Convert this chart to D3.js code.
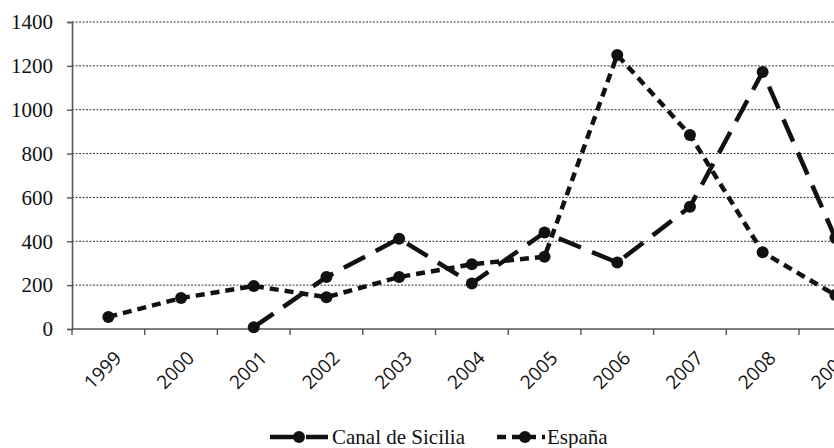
<!DOCTYPE html>
<html>
<head>
<meta charset="utf-8">
<script src="https://cdn.jsdelivr.net/npm/d3@7"></script>
<style>
  body { margin: 0; background: #fff; }
  svg { display: block; }
</style>
</head>
<body>
<script>
(function() {

    var years = ["1999", "2000", "2001", "2002", "2003", "2004", "2005", "2006", "2007", "2008", "2009"];
    var canal = [null, null, 8, 237, 412, 208, 440, 303, 557, 1172, 415];
    var espana = [55, 141, 196, 145, 237, 295, 330, 1250, 885, 350, 155];
    var yTicks = [0, 200, 400, 600, 800, 1000, 1200, 1400];
    var seriesNames = ["Canal de Sicilia", "España"];

    var width = 834,
        height = 448;

    var svg = d3.select("body")
        .append("svg")
        .attr("width", width)
        .attr("height", height);

    // band of 72.7px, last category runs past the right edge like the original
    var x = d3.scaleBand()
        .domain(years)
        .range([72, 72 + 11 * 72.7]);

    var y = d3.scaleLinear()
        .domain([0, 1400])
        .range([329, 22]);

    // dotted gridlines
    svg.selectAll(".grid")
        .data(yTicks.filter(function(d){ return d > 0; }))
        .enter()
        .append("line")
        .attr("class", "grid")
        .attr("x1", 72)
        .attr("x2", width)
        .attr("y1", function(d){ return y(d); })
        .attr("y2", function(d){ return y(d); })
        .attr("stroke", "#333")
        .attr("stroke-width", 1)
        .attr("stroke-dasharray", "2,1.5");

    // y axis
    var yAxis = svg.append("g")
        .attr("transform", "translate(72,0)")
        .call(d3.axisLeft(y).tickValues(yTicks).tickFormat(d3.format("d")).tickSize(5).tickPadding(14));
    yAxis.select(".domain").attr("stroke", "#555").attr("stroke-width", 1.6);
    yAxis.selectAll(".tick line").attr("stroke", "#555").attr("stroke-width", 1.4);
    yAxis.selectAll("text")
        .attr("fill", "#111")
        .style("font-family", "'Liberation Serif', serif")
        .style("font-size", "21px");

    // x axis, ticks at band edges
    var xEdges = years.map(function(d){ return x(d); });
    svg.append("line")
        .attr("x1", 72).attr("x2", width)
        .attr("y1", y(0)).attr("y2", y(0))
        .attr("stroke", "#555").attr("stroke-width", 1.6);
    svg.selectAll(".xtick")
        .data(xEdges)
        .enter()
        .append("line")
        .attr("class", "xtick")
        .attr("x1", function(d){ return d; })
        .attr("x2", function(d){ return d; })
        .attr("y1", y(0))
        .attr("y2", y(0) + 6)
        .attr("stroke", "#555")
        .attr("stroke-width", 1.4);

    svg.selectAll(".xlabel")
        .data(years)
        .enter()
        .append("text")
        .attr("class", "xlabel")
        .attr("text-anchor", "end")
        .attr("transform", function(d){
            return "translate(" + (x(d) + x.bandwidth() / 2 + 5) + "," + 350 + ") rotate(-45)";
        })
        .attr("dy", "0.7em")
        .style("font-family", "'Open Sans', sans-serif")
        .style("font-size", "19px")
        .attr("fill", "#111")
        .text(function(d){ return d; });

    var line = d3.line()
        .defined(function(d){ return d != null; })
        .x(function(d, i){ return x(years[i]) + x.bandwidth() / 2; })
        .y(function(d){ return y(d); });

    var dashes = ["24,12", "9,6"];
    var allSeries = [canal, espana];

    allSeries.forEach(function(vals, k) {
        svg.append("path")
            .datum(vals)
            .attr("d", line)
            .attr("fill", "none")
            .attr("stroke", "#111")
            .attr("stroke-width", 4.5)
            .attr("stroke-dasharray", dashes[k]);

        svg.selectAll(".pt" + k)
            .data(vals.map(function(v, i){ return {v: v, i: i}; }).filter(function(d){ return d.v != null; }))
            .enter()
            .append("circle")
            .attr("class", "pt" + k)
            .attr("cx", function(d){ return x(years[d.i]) + x.bandwidth() / 2; })
            .attr("cy", function(d){ return y(d.v); })
            .attr("r", 6)
            .attr("fill", "#111");
    });

    // legend
    var legendPos = [{x0: 270, x1: 328, m: 299, tx: 332}, {x0: 497, x1: 545, m: 525, tx: 547}];
    legendPos.forEach(function(p, k) {
        svg.append("line")
            .attr("x1", p.x0).attr("x2", p.x1)
            .attr("y1", 437).attr("y2", 437)
            .attr("stroke", "#111")
            .attr("stroke-width", 4.5)
            .attr("stroke-dasharray", dashes[k]);
        svg.append("circle")
            .attr("cx", p.m).attr("cy", 437).attr("r", 6)
            .attr("fill", "#111");
        svg.append("text")
            .attr("x", p.tx)
            .attr("y", 437)
            .attr("dy", "0.35em")
            .style("font-family", "'Liberation Serif', serif")
            .style("font-size", "21px")
            .attr("fill", "#111")
            .text(seriesNames[k]);
    });

})();
</script>
</body>
</html>
